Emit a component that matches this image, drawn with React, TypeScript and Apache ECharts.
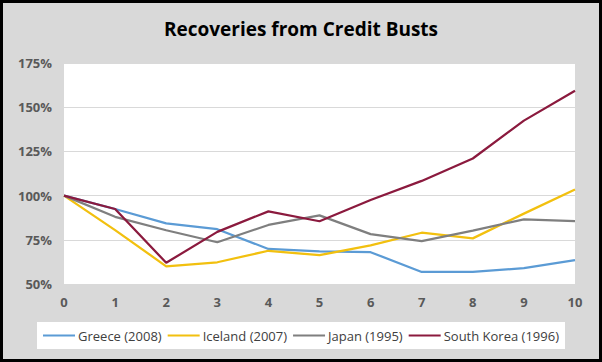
import React, { useEffect, useRef } from "react";
import * as echarts from "echarts";

const years = [0, 1, 2, 3, 4, 5, 6, 7, 8, 9, 10];
const seriesNames = ["Greece (2008)", "Iceland (2007)", "Japan (1995)", "South Korea (1996)"];
const greece = [100, 92.4, 84.3, 81, 69.8, 68.5, 68, 56.8, 56.8, 59, 63.5];
const iceland = [100, 80.5, 60, 62.3, 68.8, 66.3, 71.8, 79, 75.8, 89.8, 103.5];
const japan = [100, 88, 80.4, 73.6, 83.4, 88.8, 78.2, 74.2, 80.2, 86.6, 85.5];
const southKorea = [100, 92.4, 62, 79.5, 91.1, 85.5, 97.5, 108.3, 121, 142.4, 159.3];
const colors = ["#5B9BD5", "#F2C00F", "#7F7F7F", "#8B1A3E"];
const yTicks = [50, 75, 100, 125, 150, 175];

export default function App() {
  const ref = useRef<HTMLDivElement>(null);
  useEffect(() => {
    document.body.style.margin = "0";
    const chart = echarts.init(ref.current!, null, { renderer: "svg" });
    const data = [greece, iceland, japan, southKorea];
    chart.setOption({
      animation: false,
      backgroundColor: "#D9D9D9",
      title: {
        text: "Recoveries from Credit Busts",
        left: "center",
        top: 14,
        textStyle: { fontFamily: "Open Sans", fontSize: 19, fontWeight: "bold", color: "#000" },
      },
      graphic: [
        {
          type: "rect",
          shape: { x: 1.5, y: 1.5, width: 599, height: 359 },
          style: { fill: "none", stroke: "#000", lineWidth: 3 },
          z: 100,
        },
      ],
      grid: {
        left: 64,
        right: 27,
        top: 63,
        bottom: 78,
        show: true,
        backgroundColor: "#FFFFFF",
        borderWidth: 0,
      },
      xAxis: {
        type: "value",
        min: 0,
        max: 10,
        interval: 1,
        axisLine: { show: false },
        axisTick: { show: false },
        splitLine: { show: false },
        axisLabel: { color: "#595959", fontSize: 13, fontWeight: "bold", fontFamily: "Open Sans", margin: 11 },
      },
      yAxis: {
        type: "value",
        min: yTicks[0],
        max: yTicks[yTicks.length - 1],
        interval: 25,
        axisLine: { show: false },
        axisTick: { show: false },
        splitLine: { lineStyle: { color: "#D9D9D9", width: 1 } },
        axisLabel: {
          color: "#595959",
          fontSize: 13,
          fontWeight: "bold",
          fontFamily: "Open Sans",
          margin: 12,
          formatter: (v: number) => `${v}%`,
        },
      },
      legend: {
        data: seriesNames,
        left: "center",
        top: 322,
        backgroundColor: "#FFFFFF",
        padding: [7, 6, 7, 6],
        itemGap: 6,
        itemWidth: 32,
        itemHeight: 2,
        icon: "rect",
        textStyle: { color: "#404040", fontSize: 13, fontFamily: "Open Sans", padding: [0, 0, 0, -2] },
      },
      series: seriesNames.map((name, i) => ({
        name,
        type: "line",
        data: years.map((x, j) => [x, data[i][j]]),
        symbol: "none",
        lineStyle: { color: colors[i], width: 2.25 },
        itemStyle: { color: colors[i] },
      })),
    });
    return () => chart.dispose();
  }, []);
  return <div ref={ref} style={{ width: 602, height: 362 }} />;
}
